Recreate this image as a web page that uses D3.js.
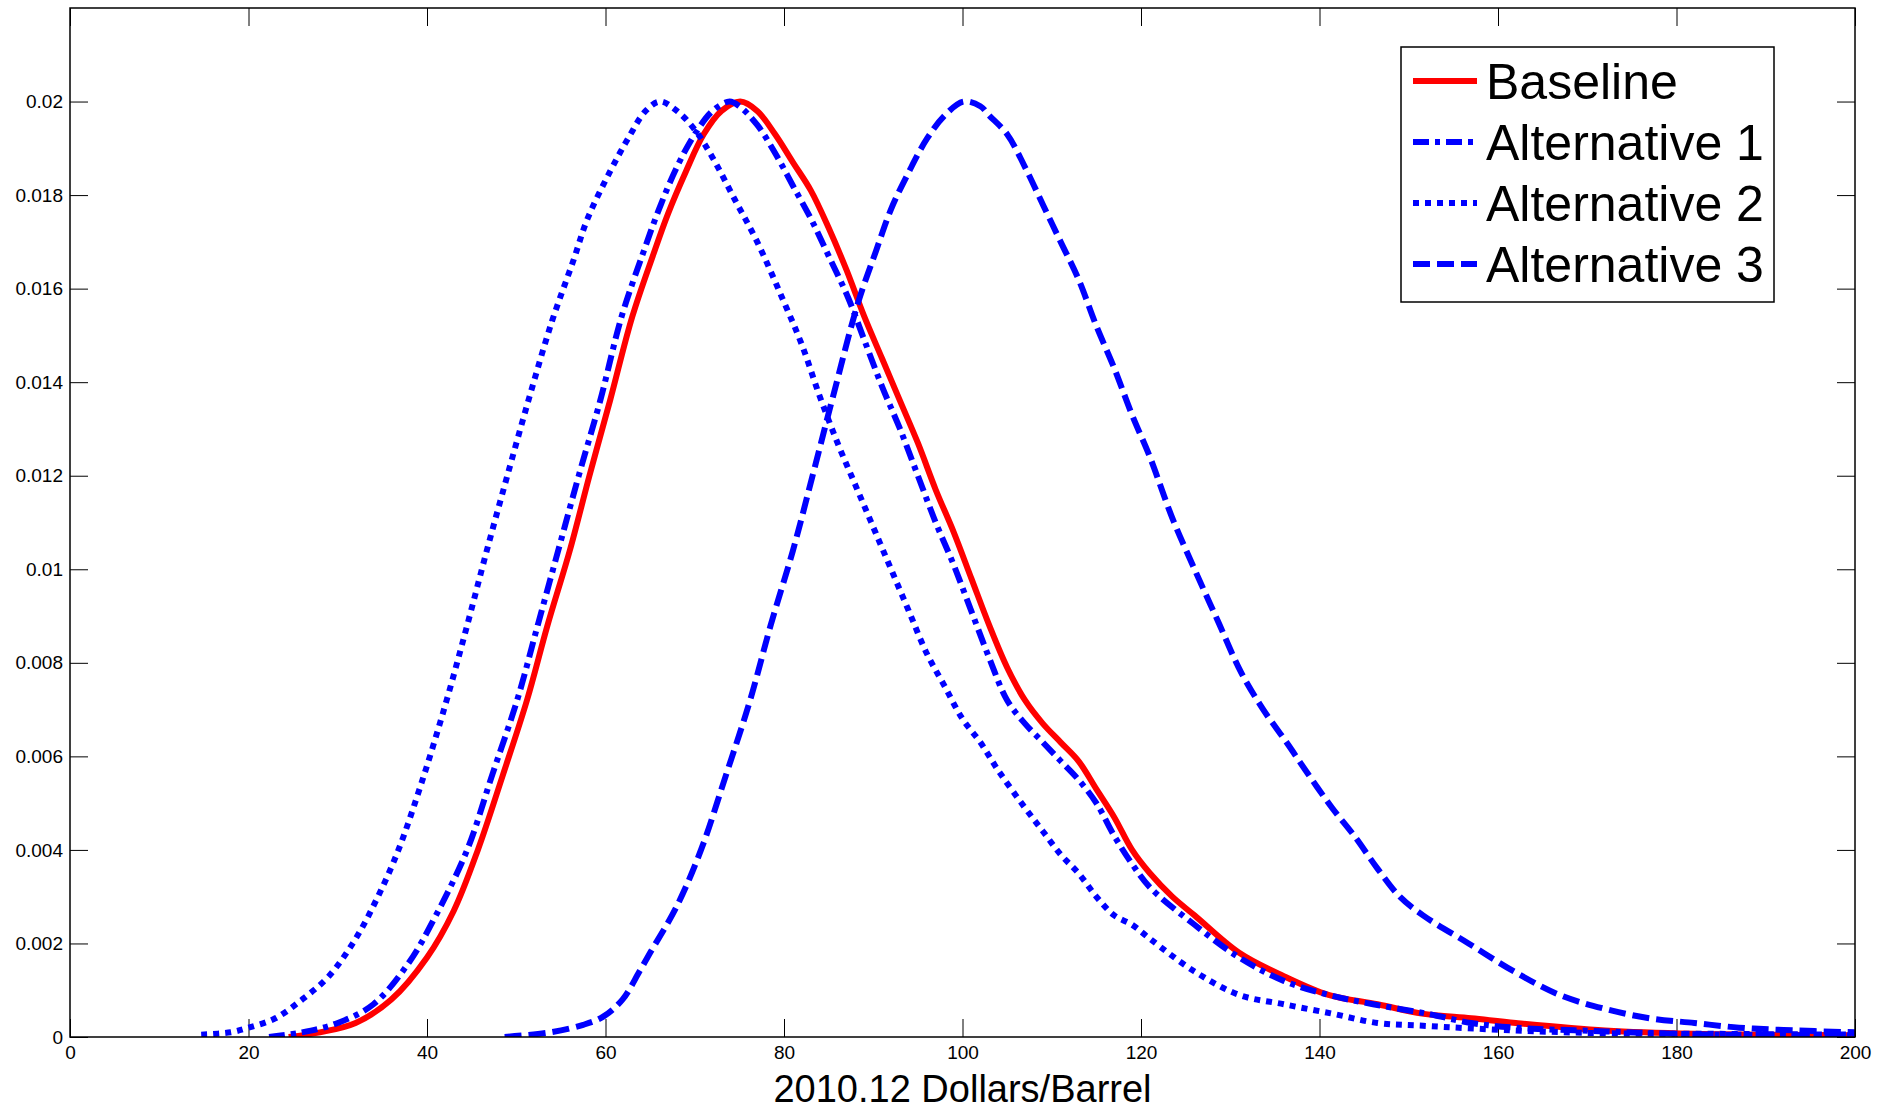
<!DOCTYPE html>
<html>
<head>
<meta charset="utf-8">
<script src="https://cdn.jsdelivr.net/npm/d3@7"></script>
<style>
    body { margin: 0; background: #fff; }
    svg { display: block; font-family: "Liberation Sans", Arial, sans-serif; }
    .tick text { fill: #000; }
    .tick line { stroke: #000; stroke-width: 1; }
</style>
</head>
<body>
<div id="chart"></div>
<script>
// price (2010.12 $/barrel) and density for each curve
const baselinePrice = [24.5, 28, 32, 36, 40, 43, 45.7, 48.5, 51.2, 53.5, 56, 58.2, 60.5, 63, 65.3, 67, 69, 71, 73, 75.1, 77, 79, 81, 83, 85, 87, 89, 91, 93, 95, 97, 99, 101, 103, 105, 107, 109, 111, 113, 115, 117, 119, 121, 123.5, 126, 131, 136, 141, 146.5, 151.5, 157, 162, 172, 182, 200];
const baselineDens = [0, 0.0001, 0.0003, 0.0008, 0.0017, 0.0027, 0.0040, 0.0056, 0.0072, 0.0088, 0.0104, 0.0120, 0.0136, 0.0154, 0.0167, 0.0176, 0.0185, 0.0193, 0.0198, 0.0200, 0.0198, 0.0193, 0.0187, 0.0181, 0.0173, 0.0164, 0.0154, 0.0145, 0.0136, 0.0127, 0.0117, 0.0108, 0.0098, 0.0088, 0.0079, 0.0072, 0.0067, 0.0063, 0.0059, 0.0053, 0.0047, 0.0040, 0.0035, 0.0030, 0.0026, 0.0018, 0.0013, 0.0009, 0.0007, 0.0005, 0.0004, 0.0003, 0.00014, 0.00007, 0.00004];

const alt1Price = [22.3, 26, 30, 34, 38, 41, 44.5, 47.3, 50.1, 52.4, 54.7, 57, 59.4, 61.8, 64.1, 66, 68, 70, 72, 73.9, 75, 77, 79, 81, 83, 85, 87.2, 89, 91, 93, 95, 97, 99, 101, 103, 105, 107, 109, 111, 113, 115, 117, 119, 121, 126, 131, 136, 141, 146, 152, 157, 162, 172, 182, 200];
const alt1Dens = [0, 0.0001, 0.0003, 0.0007, 0.0016, 0.0026, 0.0040, 0.0056, 0.0072, 0.0088, 0.0104, 0.0120, 0.0136, 0.0154, 0.0167, 0.0177, 0.0186, 0.0193, 0.0198, 0.0200, 0.0199, 0.0195, 0.0189, 0.0182, 0.0175, 0.0167, 0.0158, 0.0149, 0.0139, 0.0130, 0.0120, 0.0110, 0.0101, 0.0091, 0.0081, 0.0072, 0.0067, 0.0063, 0.0059, 0.0055, 0.0050, 0.0043, 0.0037, 0.0032, 0.0024, 0.0017, 0.0012, 0.0009, 0.0007, 0.0005, 0.0003, 0.0002, 0.00012, 0.00006, 0.00003];

const alt2Price = [14.7, 18, 20, 23, 26, 29, 32, 34.5, 36.8, 39.5, 42.2, 44.5, 46.7, 49, 51.5, 54, 56.4, 58, 60.5, 62.5, 64.5, 66.1, 68, 70, 72, 74.5, 77, 79.8, 82, 84, 86, 88, 90, 92, 94, 96, 98, 100, 102, 104, 107, 109, 111, 113, 115, 117, 119, 121, 126, 131, 136, 141.4, 146.5, 151.6, 161.8, 172, 182, 200];
const alt2Dens = [0.00005, 0.0001, 0.0002, 0.0004, 0.0008, 0.0013, 0.0021, 0.0030, 0.0040, 0.0055, 0.0072, 0.0088, 0.0104, 0.0120, 0.0137, 0.0153, 0.0166, 0.0175, 0.0185, 0.0192, 0.0198, 0.0200, 0.0198, 0.0194, 0.0188, 0.0179, 0.0170, 0.0158, 0.0148, 0.0137, 0.0127, 0.0118, 0.0109, 0.0100, 0.0091, 0.0082, 0.0075, 0.0068, 0.0063, 0.0057, 0.0049, 0.0044, 0.0039, 0.0035, 0.0030, 0.0026, 0.0024, 0.0021, 0.0014, 0.0009, 0.0007, 0.0005, 0.0003, 0.00024, 0.00014, 0.00008, 0.00007, 0.00005];

const alt3Price = [48.7, 53.8, 57.5, 59.7, 61.9, 63.8, 65, 68, 70.7, 73.5, 76.2, 78.5, 81, 83.2, 85.5, 88.3, 90.3, 92, 94, 96, 98, 100.1, 102, 103, 105, 107, 109, 111, 113, 115, 117, 119, 121, 123.5, 126, 128.6, 131.2, 133.7, 136.3, 138.8, 141.4, 143.9, 146.5, 149, 151.6, 156.7, 161.8, 166.9, 172, 177, 182, 187, 192, 200];
const alt3Dens = [0, 0.0001, 0.00026, 0.00043, 0.0008, 0.0014, 0.0018, 0.0028, 0.0040, 0.0056, 0.0072, 0.0088, 0.0104, 0.0120, 0.0137, 0.0157, 0.0168, 0.0177, 0.0185, 0.0192, 0.0197, 0.0200, 0.0199, 0.0197, 0.0193, 0.0186, 0.0178, 0.0170, 0.0162, 0.0152, 0.0143, 0.0133, 0.0124, 0.0111, 0.0100, 0.0089, 0.0078, 0.0070, 0.0063, 0.0056, 0.0049, 0.0043, 0.0036, 0.0030, 0.0026, 0.0020, 0.0014, 0.0009, 0.0006, 0.0004, 0.0003, 0.0002, 0.00015, 0.0001];

const seriesNames = ["Baseline", "Alternative 1", "Alternative 2", "Alternative 3"];
const xTicks = d3.range(0, 201, 20);
const yTicks = d3.range(11).map(i => +(i * 0.002).toFixed(3));

const W = 1895, H = 1110;
const M = {left: 70, right: 40, top: 8, bottom: 73};

const series = [
    {name: seriesNames[0], price: baselinePrice, dens: baselineDens, color: "#ff0000", dash: null},
    {name: seriesNames[1], price: alt1Price, dens: alt1Dens, color: "#0000ff", dash: "16,6,5,6"},
    {name: seriesNames[2], price: alt2Price, dens: alt2Dens, color: "#0000ff", dash: "6,6"},
    {name: seriesNames[3], price: alt3Price, dens: alt3Dens, color: "#0000ff", dash: "17,7"}
];

const svg = d3.select("#chart").append("svg")
    .attr("width", W)
    .attr("height", H);

const x = d3.scaleLinear().domain([0, 200]).range([M.left, W - M.right]);
const y = d3.scaleLinear().domain([0, 0.022]).range([H - M.bottom, M.top]);

svg.append("clipPath").attr("id", "plot-clip")
    .append("rect")
    .attr("x", x(0)).attr("y", y(0.022))
    .attr("width", x(200) - x(0)).attr("height", y(0) - y(0.022));

// axes, ticks point inward on all four sides
const TICK = 18;
const axes = [
    svg.append("g").attr("transform", `translate(0,${y(0)})`)
        .call(d3.axisBottom(x).tickValues(xTicks).tickSize(-TICK).tickPadding(9)),
    svg.append("g").attr("transform", `translate(0,${y(0.022)})`)
        .call(d3.axisTop(x).tickValues(xTicks).tickSize(-TICK).tickFormat("")),
    svg.append("g").attr("transform", `translate(${x(0)},0)`)
        .call(d3.axisLeft(y).tickValues(yTicks).tickSize(-TICK).tickPadding(7).tickFormat(d => String(d))),
    svg.append("g").attr("transform", `translate(${x(200)},0)`)
        .call(d3.axisRight(y).tickValues(yTicks).tickSize(-TICK).tickFormat(""))
];
axes.forEach(g => {
    g.select(".domain").remove();
    g.selectAll("text").style("font-size", "19px").style("font-family", "'Liberation Sans', Arial, sans-serif");
});

const line = d3.line()
    .x(d => d[0])
    .y(d => d[1])
    .curve(d3.curveCatmullRom.alpha(0.5));

svg.append("g").attr("clip-path", "url(#plot-clip)")
    .selectAll("path")
    .data(series)
    .join("path")
    .attr("fill", "none")
    .attr("stroke", d => d.color)
    .attr("stroke-width", 6)
    .attr("stroke-dasharray", d => d.dash)
    .attr("d", d => line(d.price.map((p, i) => [x(p), y(d.dens[i])])));

svg.append("rect")
    .attr("x", x(0)).attr("y", y(0.022))
    .attr("width", x(200) - x(0)).attr("height", y(0) - y(0.022))
    .attr("fill", "none")
    .attr("stroke", "#000")
    .attr("stroke-width", 1.5);

svg.append("text")
    .attr("x", (x(0) + x(200)) / 2)
    .attr("y", 1102)
    .attr("text-anchor", "middle")
    .style("font-size", "38px")
    .text("2010.12 Dollars/Barrel");

// legend
const legend = svg.append("g").attr("transform", "translate(1401,47)");
legend.append("rect")
    .attr("width", 373).attr("height", 255)
    .attr("fill", "#fff")
    .attr("stroke", "#000")
    .attr("stroke-width", 1.5);

const rows = legend.selectAll("g.row")
    .data(series)
    .join("g")
    .attr("class", "row")
    .attr("transform", (_d, i) => `translate(0,${34 + i * 61})`);

rows.append("line")
    .attr("x1", 12).attr("x2", 76)
    .attr("stroke", d => d.color)
    .attr("stroke-width", 6)
    .attr("stroke-dasharray", d => d.dash);

rows.append("text")
    .attr("x", 85)
    .attr("y", 18)
    .style("font-size", "50px")
    .text(d => d.name);
</script>
</body>
</html>
